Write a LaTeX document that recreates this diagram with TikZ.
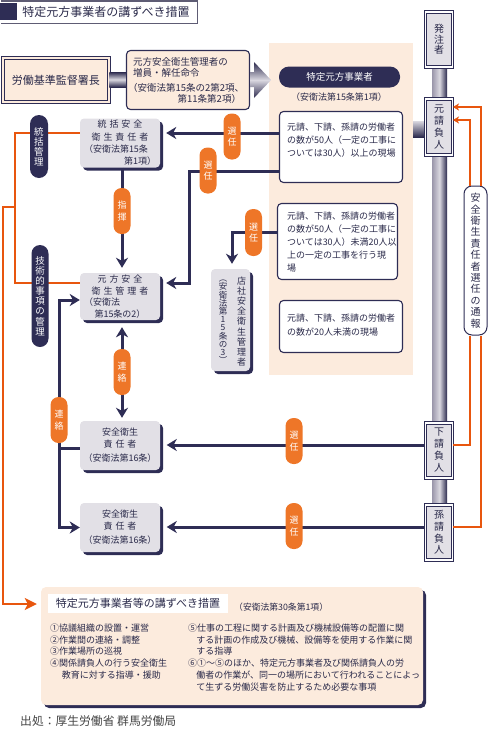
\documentclass[tikz,border=0pt]{standalone}
\usepackage{fontspec}
\setmainfont{Noto Sans CJK JP}
\newfontfamily\jpw[LetterSpace=33]{Noto Sans CJK JP}
\usetikzlibrary{arrows.meta,shadows}
\definecolor{navy}{HTML}{2E2D55}
\definecolor{txt}{HTML}{2A2A4A}
\definecolor{orng}{HTML}{EE7628}
\definecolor{oline}{HTML}{E8560E}
\definecolor{peach}{HTML}{FCEBDD}
\definecolor{gbox}{HTML}{E2E0E6}
\definecolor{pipeL}{HTML}{DAD8E0}
\definecolor{pipeM}{HTML}{9A96AA}
\definecolor{pipeD}{HTML}{2C2A4E}
\definecolor{frame}{HTML}{5E5C74}
\definecolor{srcgray}{HTML}{444444}
\tikzset{
  nl/.style={draw=navy, line width=3pt},
  narr/.style={nl, -{Stealth[length=10pt,width=12pt,inset=3pt]}},
  ol/.style={draw=oline, line width=2.5pt},
  othin/.style={draw=oline, line width=1.3pt},
  shad/.style={drop shadow={shadow xshift=3pt,shadow yshift=-3pt,fill=navy,opacity=1}},
  gbx/.style={fill=gbox, rounded corners=4pt, shad, text=txt, inner sep=0pt, align=center},
  wbx/.style={draw=navy, line width=1.1pt, fill=white, rounded corners=4pt, inner sep=0pt},
  npill/.style={fill=navy, text=white, inner sep=0pt, align=center},
  opill/.style={fill=orng, rounded corners=8pt, text=white, inner sep=0pt, align=center, minimum width=17pt, minimum height=46pt, font=\fontsize{9}{11.5}\selectfont},
  dbl/.style={draw=navy, line width=0.9pt, double=white, double distance=1.4pt, fill=gbox, inner sep=0pt, minimum width=27pt, align=center, text=txt},
  tx/.style={text=txt, inner sep=0pt},
}
\begin{document}
\begin{tikzpicture}[x=1pt,y=-1pt]
\useasboundingbox (0,0) rectangle (488,737);
% title
\draw[draw=frame, line width=1.5pt] (0.75,0.75) -- (197.25,0.75) -- (197.25,23.25) -- (0.75,23.25);
\fill[navy] (0,3.3) rectangle (16.7,20);
\node[tx, font=\fontsize{12}{13}\selectfont] (title) at (106,12) {特定元方事業者の講ずべき措置};
% pipe and panel
\shade[left color=pipeM, right color=pipeD, middle color=pipeL] (432,15) rectangle (447,505);
\fill[peach] (269,43) rectangle (413,375);
% top row
\node[draw=navy, line width=0.9pt, double=peach, double distance=1.8pt, fill=peach, minimum width=106pt, minimum height=44pt, inner sep=0pt, text=txt, font=\fontsize{11}{12}\selectfont] (rodo) at (56,80) {労働基準監督署長};
\node[draw=navy, line width=1.1pt, fill=peach, rounded corners=4pt, minimum width=123pt, minimum height=59pt, inner sep=0pt] (order) at (188,80) {};
\node[tx, align=left, font=\fontsize{9.5}{11}\selectfont] (ordert) at (184.5,80.5) {\makebox[113pt][l]{\hspace*{5pt}元方安全衛生管理者の}\\\makebox[113pt][l]{\hspace*{5pt}増員・解任命令}\\[4pt]\makebox[113pt][l]{（安衛法第15条の2第2項、}\\\makebox[113pt][r]{第11条第2項）}};
\shade[top color=pipeD, bottom color=pipeD, middle color=pipeL] ([yshift=8]rodo.east) rectangle ([yshift=-7]order.west);
\shade[top color=pipeD, bottom color=pipeD, middle color=pipeL] (250,72) -- (254,72) -- (254,62) -- (271,80) -- (254,98) -- (254,87) -- (250,87) -- cycle;
\node[npill, rounded corners=10pt, minimum width=121pt, minimum height=21pt, font=\fontsize{9.5}{10}\selectfont] (toku) at (339.5,77) {特定元方事業者};
\node[tx, font=\fontsize{9}{10}\selectfont] (law15) at (339,97) {（安衛法第15条第1項）};
% condition boxes
\node[wbx, minimum width=123pt, minimum height=71pt] (box1) at (341,147) {};
\node[tx, anchor=west, align=left, font=\fontsize{9}{13}\selectfont] (t1) at (287,140) {元請、下請、孫請の労働者\\の数が50人（一定の工事に\\ついては30人）以上の現場};
\node[wbx, minimum width=120pt, minimum height=76pt] (box2) at (337.5,241.5) {};
\node[tx, anchor=west, align=left, font=\fontsize{9}{13}\selectfont] (t2) at (287,242) {元請、下請、孫請の労働者\\の数が50人（一定の工事に\\ついては30人）未満20人以\\上の一定の工事を行う現\\場};
\node[wbx, minimum width=123pt, minimum height=52pt] (box3) at (341,326.5) {};
\node[tx, anchor=west, align=left, font=\fontsize{9}{14}\selectfont] (t3) at (287,325) {元請、下請、孫請の労働者\\の数が20人未満の現場};
% right column
\node[dbl, minimum height=55pt, font=\fontsize{10}{10.5}\selectfont] (hachu) at (439,39.5) {発\\注\\者};
\shade[top color=pipeL, bottom color=pipeD] (413,121) rectangle (425,137);
\node[dbl, minimum height=56pt, font=\fontsize{10}{11.7}\selectfont] (moto) at (439,127) {元\\請\\負\\人};
\node[dbl, minimum height=55pt, font=\fontsize{10}{12}\selectfont] (shita) at (439,450.5) {下\\請\\負\\人};
\node[dbl, minimum height=55pt, font=\fontsize{10}{11.7}\selectfont] (mago) at (439,532.5) {孫\\請\\負\\人};
\node[draw=navy, line width=1pt, fill=white, rounded corners=8pt, minimum width=23pt, minimum height=149pt, inner sep=0pt, align=center, text=txt, font=\fontsize{10}{11.4}\selectfont] (notice) at (475.5,260.5) {安\\全\\衛\\生\\責\\任\\者\\選\\任\\の\\通\\報};
% left boxes
\node[gbx, minimum width=80pt, minimum height=49pt, font=\fontsize{9}{12.3}\selectfont] (tokatsu) at (120,143) {\makebox[72pt]{\jpw 統括安全}\\\makebox[72pt]{\jpw 衛生責任者}\\\makebox[72pt][l]{（安衛法第15条}\\\makebox[72pt][r]{第1項）}};
\node[gbx, minimum width=80pt, minimum height=47pt, font=\fontsize{9}{11.7}\selectfont] (genpo) at (120,296.5) {\makebox[72pt]{\jpw 元方安全}\\\makebox[72pt]{\jpw 衛生管理者}\\\makebox[72pt][l]{（安衛法}\\\makebox[72pt]{第15条の2）}};
\node[gbx, minimum width=80pt, minimum height=49pt, font=\fontsize{9}{12}\selectfont] (sa) at (120,445.5) {安全衛生\\{\jpw 責任者}\\[2pt]（安衛法第16条）};
\node[gbx, minimum width=80pt, minimum height=49pt, font=\fontsize{9}{12}\selectfont] (sb) at (120,527.5) {安全衛生\\{\jpw 責任者}\\[2pt]（安衛法第16条）};
\node[gbx, minimum width=39pt, minimum height=102pt] (tensha) at (230.5,320) {};
\node[tx, align=center, font=\fontsize{9}{10.1}\selectfont] (tenshaR) at (241.5,321.5) {店\\社\\安\\全\\衛\\生\\管\\理\\者};
\node[tx, align=center, font=\fontsize{8.5}{8.2}\selectfont] (tenshaL) at (223,322) {︵\\安\\衛\\法\\第\\1\\5\\条\\の\\3\\︶};
% bottom box
\node[fill=peach, rounded corners=5pt, shad, minimum width=382pt, minimum height=118pt, inner sep=0pt] (bot) at (232,646) {};
\node[fill=white, minimum width=180pt, minimum height=19pt, inner sep=0pt, text=txt, font=\fontsize{11}{12}\selectfont] (bottitle) at (138,603.5) {特定元方事業者等の講ずべき措置};
\node[tx, anchor=west, font=\fontsize{8.8}{9}\selectfont] (law30) at (234,607.5) {（安衛法第30条第1項）};
\node[tx, anchor=north west, align=left, font=\fontsize{9}{11.8}\selectfont] (listL) at (50,623.5) {①協議組織の設置・運営\\②作業間の連絡・調整\\③作業場所の巡視\\④関係請負人の行う安全衛生\\\hspace*{1.3em}教育に対する指導・援助};
\node[tx, anchor=north west, align=left, font=\fontsize{9}{11.8}\selectfont] (listR) at (188,623.5) {⑤仕事の工程に関する計画及び機械設備等の配置に関\\\hspace*{0.9em}する計画の作成及び機械、設備等を使用する作業に関\\\hspace*{0.9em}する指導\\⑥①～⑤のほか、特定元方事業者及び関係請負人の労\\\hspace*{0.9em}働者の作業が、同一の場所において行われることによっ\\\hspace*{0.9em}て生ずる労働災害を防止するため必要な事項};
\node[anchor=west, text=srcgray, inner sep=0pt, font=\fontsize{11.8}{13}\selectfont] (src) at (20,721) {出処：厚生労働省 群馬労働局};
% orange lines
\draw[ol] ([yshift=10]tokatsu.west) -- ++(-65,0) |- ([yshift=13.5]genpo.west);
\coordinate (oj) at (15,207);
\draw[ol, -{Stealth[length=12pt,width=12pt,inset=3pt]}] (oj) -- ++(-12,0) |- ([xshift=-4pt,yshift=42pt]bot.west);
\draw[othin, -{Stealth[length=6pt,width=7pt,inset=1.5pt]}] ([xshift=5.5pt]notice.north) |- ([yshift=20]moto.east);
\draw[othin, -{Stealth[length=6pt,width=7pt,inset=1.5pt]}] ([xshift=-5.5pt]notice.north) |- ([yshift=7]moto.east);
\draw[othin] ([xshift=-5.5pt]notice.south) |- ([yshift=5.5]shita.east);
\draw[othin] ([xshift=5.5pt]notice.south) |- ([yshift=5.5]mago.east);
% navy connectors
\coordinate (a1) at ([yshift=14]box1.west);
\draw[narr, shorten >=6pt] (a1) -- (a1 -| tokatsu.east);
\coordinate (a2) at ([yshift=-24]box1.west);
\draw[narr, shorten >=6pt] (a2) -- ++(-89,0) |- ([yshift=13.5]genpo.east);
\coordinate (a3) at ([yshift=9.5]box2.west);
\draw[narr, shorten >=5pt] (a3) -| ([xshift=1.5]tensha.north);
\draw[narr, shorten >=5pt] ([xshift=2]tokatsu.south) -- ([xshift=2]genpo.north);
\draw[nl, {Stealth[length=10pt,width=12pt,inset=3pt]}-{Stealth[length=10pt,width=12pt,inset=3pt]}, shorten <=7pt, shorten >=3pt] ([xshift=2]genpo.south) -- ([xshift=2]sa.north);
\coordinate (lv) at (59,448);
\draw[nl] ([yshift=-2.5]sa.west) -- (lv);
\draw[narr] (lv) |- ([yshift=-3.5]genpo.west);
\draw[narr] (lv) |- (sb.west);
\coordinate (a4) at ([yshift=5.5]shita.west);
\draw[narr, shorten >=6.5pt] (a4) -- (a4 -| sa.east);
\coordinate (a5) at ([yshift=5.5]mago.west);
\draw[narr, shorten >=6.5pt] (a5) -- (a5 -| sb.east);
% pills
\node[npill, rounded corners=9pt, minimum width=18pt, minimum height=63pt, font=\fontsize{9.5}{10}\selectfont] (tkanri) at (39,146.5) {統\\括\\管\\理};
\node[npill, rounded corners=8.5pt, minimum width=17pt, minimum height=102pt, font=\fontsize{9.5}{10.1}\selectfont] (gkanri) at (40,296) {技\\術\\的\\事\\項\\の\\管\\理};
\node[opill] (sen1) at (232,136.5) {選\\任};
\node[opill] (sen2) at (208,170.5) {選\\任};
\node[opill, minimum height=47pt] (sen3) at (253.5,232.5) {選\\任};
\node[opill] (shiki) at (122,211) {指\\揮};
\node[opill] (ren1) at (122,372) {連\\絡};
\node[opill] (ren2) at (59,420) {連\\絡};
\node[opill] (sen4) at (294,441) {選\\任};
\node[opill] (sen5) at (294,526) {選\\任};
\end{tikzpicture}
\end{document}
